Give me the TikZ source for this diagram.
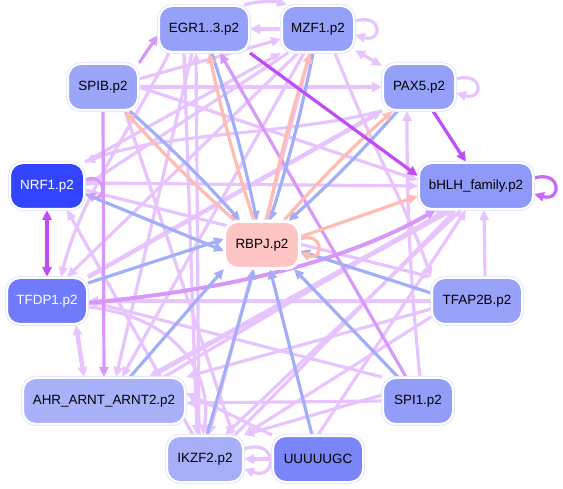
\documentclass[tikz,border=0pt]{standalone}
\usepackage{fontspec}
\setmainfont{Liberation Sans}
\usetikzlibrary{arrows.meta}
\definecolor{lv}{HTML}{E8C4FF}
\definecolor{mv}{HTML}{D898FA}
\definecolor{spc}{HTML}{C04CF8}
\definecolor{lp}{HTML}{C868F8}
\definecolor{bl}{HTML}{A2AEF8}
\definecolor{sa}{HTML}{FFBCB2}
\definecolor{ndo}{HTML}{E4E6FF}
\definecolor{cEGR}{HTML}{95A0F8}
\definecolor{cSPIB}{HTML}{9CA6F8}
\definecolor{cNRF}{HTML}{3344FF}
\definecolor{cBHLH}{HTML}{8E99FA}
\definecolor{cTFDP}{HTML}{6F7BFA}
\definecolor{cAHR}{HTML}{A9B1F8}
\definecolor{cTFAP}{HTML}{98A2F8}
\definecolor{cSPI}{HTML}{939DF8}
\definecolor{cIKZ}{HTML}{A6AEF8}
\definecolor{cUUU}{HTML}{7A86F8}
\definecolor{cRBPJ}{HTML}{FFC4C4}
\pgfdeclarelayer{fg}
\pgfsetlayers{main,fg}
\tikzset{
  nd/.style={rectangle, rounded corners=13pt, minimum width=#1, minimum height=46pt,
    inner sep=0pt, font=\fontsize{13.4}{16}\selectfont,
    preaction={draw=ndo, line width=4pt}, draw=white, line width=2pt},
  e/.style={line width=3.2pt, -{Triangle[length=10pt,width=9pt]}},
  ee/.style={line width=3.2pt, {Triangle[length=10pt,width=9pt]}-{Triangle[length=10pt,width=9pt]}},
}
\begin{document}
\begin{tikzpicture}[x=1pt,y=-1pt]
\useasboundingbox (0,0) rectangle (563,489);
% nodes
\begin{pgfonlayer}{fg}
\node[nd=90pt, fill=cEGR] (egr) at (204,29) {EGR1..3.p2};
\node[nd=72pt, fill=cEGR] (mzf) at (318,29) {MZF1.p2};
\node[nd=70pt, fill=cSPIB] (spib) at (103,87) {SPIB.p2};
\node[nd=72pt, fill=cEGR] (pax) at (419,87) {PAX5.p2};
\node[nd=74pt, fill=cNRF, text=white] (nrf) at (47,186) {NRF1.p2};
\node[nd=114pt, fill=cBHLH] (bhlh) at (476,186) {bHLH\_family.p2};
\node[nd=74pt, fill=cRBPJ, preaction={draw=white, line width=4pt}] (rbpj) at (262,245) {RBPJ.p2};
\node[nd=80pt, fill=cTFDP, text=white] (tfdp) at (47,301) {TFDP1.p2};
\node[nd=90pt, fill=cTFAP] (tfap) at (477,301) {TFAP2B.p2};
\node[nd=162pt, fill=cAHR] (ahr) at (104,401) {AHR\_ARNT\_ARNT2.p2};
\node[nd=70pt, fill=cSPI] (spi) at (418,401) {SPI1.p2};
\node[nd=76pt, fill=cIKZ] (ikzf) at (205,459) {IKZF2.p2};
\node[nd=90pt, fill=cUUU] (uuu) at (318,459) {UUUUUGC};
\end{pgfonlayer}

% light violet edges
\begin{scope}[lv]
\draw[e] (mzf) -- (egr);
\draw[e] ([xshift=-6pt]egr.north east) .. controls +(12,-4) and +(-12,-4) .. ([xshift=6pt]mzf.north west);
\draw[e] ([yshift=8pt]mzf.east) .. controls +(28,-8) and +(28,8) .. ([yshift=-6pt]mzf.east);
\draw[ee] (mzf) -- (pax);
\draw[e] ([yshift=8pt]pax.east) .. controls +(28,-8) and +(28,8) .. ([yshift=-6pt]pax.east);
\draw[e] (spib) -- (pax);
\draw[e] (spib.east) -- ([yshift=6pt]bhlh.west);
\draw[e] ([yshift=8pt]spib.east) -- ([yshift=-10pt]mzf.west);
\draw[e] (nrf.north east) -- (mzf.south west);
\draw[e] ([yshift=3pt]nrf.east) -- (bhlh.west);
\draw[e] ([yshift=-4pt]nrf.east) -- (tfap.north west);
\draw[e] (tfap.west) -- (tfdp.east);
\draw[e] ([yshift=-8pt]tfap.west) -- (ahr.north east);
\draw[e] ([yshift=-16pt]tfap.west) -- (ikzf.north east);
\draw[e] ([xshift=8pt]tfap.north) -- ([xshift=8pt]bhlh.south);
\draw[e] (pax.south west) .. controls +(-100,25) and +(80,-30) .. (nrf.north east);
\draw[e] ([xshift=2pt]spi.north) .. controls +(-10,-100) and +(0,100) .. ([xshift=-12pt]pax.south);
\draw[e] (spi.west) -- ([yshift=-2pt]ahr.east);
\draw[e] ([yshift=6pt]spi.west) -- (ikzf.north east);
\draw[e] (uuu.north west) -- ([yshift=8pt]ahr.east);
\draw[e] ([yshift=10pt]ikzf.east) .. controls +(34,-12) and +(34,12) .. ([yshift=-10pt]ikzf.east);
\draw[e] (uuu) -- (ikzf);
\draw[e, line width=5pt] ([xshift=-25pt]bhlh.south) -- ([xshift=45pt]ahr.north);
\draw[e] ([xshift=-15pt]bhlh.south) -- ([xshift=20pt]ikzf.north);
\draw[ee, line width=4.5pt] ([xshift=-12pt]tfdp.south east) -- ([xshift=-20pt]ahr.north);
\draw[e] ([yshift=-6pt]tfdp.east) .. controls +(90,10) and +(10,-60) .. ([xshift=-2pt]ikzf.north);
\draw[e] ([xshift=-20pt]egr.south) -- ([xshift=-8pt]ikzf.north);
\draw[e] ([xshift=-12pt]egr.south) -- ([xshift=12pt]ahr.north);
\draw[e] ([xshift=-35pt]egr.south) .. controls +(-40,80) and +(20,-80) .. ([xshift=14pt]tfdp.north);
\draw[e] ([xshift=-20pt]mzf.south) -- ([xshift=20pt]tfdp.north);
\draw[e] ([xshift=-14pt]mzf.south) -- ([xshift=18pt]ahr.north);
\draw[e] ([xshift=-8pt]mzf.south) -- ([xshift=4pt]ikzf.north);
\draw[e] ([xshift=-30pt]mzf.south) -- (nrf.east);
\draw[e] ([xshift=22pt]spib.south) -- ([xshift=28pt]ikzf.north);
\draw[e, line width=4.5pt] (tfdp.north east) -- (pax.south west);
\draw[e] ([xshift=-12pt]ikzf.north) -- ([xshift=20pt]nrf.south);
\draw[e] ([xshift=-6pt]ikzf.north) -- ([xshift=-8pt]egr.south);
\draw[e] ([xshift=60pt]ahr.north) -- ([xshift=-30pt]bhlh.south);
\draw[e] ([xshift=30pt]ikzf.north) -- ([xshift=-20pt]bhlh.south);
\draw[e] (uuu.north) -- ([xshift=-10pt]bhlh.south);
\draw[e] (spi.north west) -- (tfdp.east);
\draw[e] ([xshift=-20pt]mzf.south east) .. controls +(40,100) and +(-20,-60) .. (tfap.north west);
\end{scope}

% medium violet edges
\begin{scope}[mv]
\draw[e] (spib.north east) -- ([yshift=-6pt]egr.west);
\draw[e] (spib.south) -- (ahr.north);
\draw[e] ([xshift=-12pt]spi.north) -- ([xshift=16pt]egr.south);
\draw[e] ([yshift=6pt]nrf.east) .. controls +(22,-8) and +(22,8) .. ([yshift=-8pt]nrf.east);
\draw[e, line width=4pt] ([yshift=-2pt]tfdp.east) .. controls (200,292) and (330,270) .. ([xshift=-40pt]bhlh.south);
\end{scope}

% blue edges
\begin{scope}[bl]
\draw[e] (egr) to[bend left=3] (rbpj);
\draw[e] (mzf) to[bend left=3] (rbpj);
\draw[e] (spib) to[bend left=3] (rbpj);
\draw[e] (pax) to[bend left=3] (rbpj);
\draw[e] ([yshift=-8pt]nrf.east) -- ([yshift=-6pt]rbpj.west);
\draw[e] ([yshift=-6pt]tfdp.north east) -- ([yshift=6pt]rbpj.west);
\draw[e] ([xshift=26pt]ahr.north) -- (rbpj.south west);
\draw[e] ([xshift=2pt]ikzf.north) -- ([xshift=-8pt]rbpj.south);
\draw[e] ([xshift=-6pt]uuu.north) -- ([xshift=8pt]rbpj.south);
\draw[e] ([xshift=-20pt]spi.north) -- ([xshift=-6pt]rbpj.south east);
\draw[e] ([yshift=8pt]tfap.west) -- ([yshift=-6pt]rbpj.east);
\end{scope}

% salmon edges
\begin{scope}[sa]
\draw[e] (rbpj) to[bend left=3] (egr);
\draw[e] (rbpj) to[bend left=3] (mzf);
\draw[e] (rbpj) to[bend left=3] (spib);
\draw[e] (rbpj) to[bend left=3] (pax);
\draw[e] ([yshift=8pt]rbpj.east) -- ([yshift=-10pt]bhlh.west);
\draw[e] ([yshift=6pt]rbpj.east) .. controls +(24,-8) and +(24,8) .. ([yshift=-8pt]rbpj.east);
\end{scope}

% strong purple edges
\begin{scope}[spc]
\draw[e] (egr.south east) -- ([yshift=10pt]bhlh.west);
\draw[e] ([xshift=14pt]pax.south) -- ([xshift=-10pt]bhlh.north);
\draw[ee] (nrf.south) -- (tfdp.north);
\end{scope}
\draw[e, lp] ([yshift=8pt]bhlh.east) .. controls +(28,-8) and +(28,8) .. ([yshift=-8pt]bhlh.east);
\end{tikzpicture}
\end{document}
